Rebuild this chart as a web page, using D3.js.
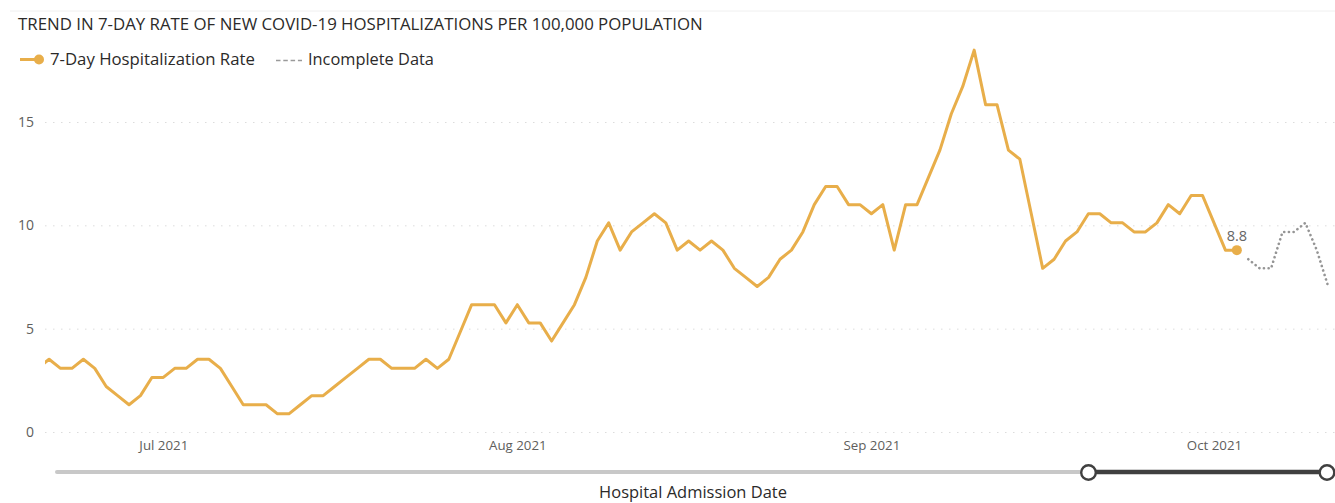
<!DOCTYPE html>
<html><head><meta charset="utf-8">
<script src="https://cdn.jsdelivr.net/npm/d3@7"></script>
<style>body{margin:0;background:#fff} svg{display:block}</style>
</head><body><svg id="c" width="1335" height="503"></svg>
<script>
// ---- data ----
const titleText = "TREND IN 7-DAY RATE OF NEW COVID-19 HOSPITALIZATIONS PER 100,000 POPULATION";
const seriesNames = ["7-Day Hospitalization Rate", "Incomplete Data"];
const rateStart = "2021-06-20";
const rateValues = [
  3.08, 3.52, 3.08, 3.08, 3.52, 3.08, 2.20, 1.76, 1.32, 1.76, 2.64,            // Jun 20-30
  2.64, 3.08, 3.08, 3.52, 3.52, 3.08, 2.20, 1.32, 1.32, 1.32,                  // Jul 1-10
  0.88, 0.88, 1.32, 1.76, 1.76, 2.20, 2.64, 3.08, 3.52, 3.52,                  // Jul 11-20
  3.08, 3.08, 3.08, 3.52, 3.08, 3.52, 4.84, 6.16, 6.16, 6.16, 5.28,            // Jul 21-31
  6.16, 5.28, 5.28, 4.40, 5.28, 6.16, 7.48, 9.24, 10.12, 8.80,                 // Aug 1-10
  9.68, 10.12, 10.56, 10.12, 8.80, 9.24, 8.80, 9.24, 8.80, 7.92,               // Aug 11-20
  7.48, 7.04, 7.48, 8.36, 8.80, 9.68, 11.00, 11.88, 11.88, 11.00, 11.00,       // Aug 21-31
  10.56, 11.00, 8.80, 11.00, 11.00, 12.32, 13.64, 15.40, 16.72, 18.48,         // Sep 1-10
  15.84, 15.84, 13.64, 13.20, 10.56, 7.92, 8.36, 9.24, 9.68, 10.56,            // Sep 11-20
  10.56, 10.12, 10.12, 9.68, 9.68, 10.12, 11.00, 10.56, 11.44, 11.44,          // Sep 21-30
  10.12, 8.80, 8.80                                                            // Oct 1-3
];
const incompleteStart = "2021-10-04";
const incompleteValues = [8.36, 7.92, 7.92, 9.68, 9.68, 10.12, 8.80, 7.04];  // Oct 4-11
const yTicks = [0, 5, 10, 15];
const monthTicks = ["2021-07-01", "2021-08-01", "2021-09-01", "2021-10-01"];
const xAxisTitle = "Hospital Admission Date";

// ---- helpers ----
const parse = d3.utcParse("%Y-%m-%d");
function toSeries(start, vals) {
  const s = parse(start);
  return vals.map((v, i) => ({ date: d3.utcDay.offset(s, i), v }));
}
const rate = toSeries(rateStart, rateValues);
const incomplete = toSeries(incompleteStart, incompleteValues);

const W = 1335, H = 503;
const plotLeft = 45, plotRight = 1331;
const svg = d3.select("#c");
const FONT = "'Segoe UI', 'Open Sans', sans-serif";
const ORANGE = "#E8AE4A";

const x = d3.scaleUtc()
  .domain([parse("2021-07-01"), parse("2021-10-01")])
  .range([163.3, 1214]);
const y = d3.scaleLinear().domain([0, 15]).range([432, 122]);

function fit(sel, target) {
  const w = sel.node().getComputedTextLength();
  const fs = parseFloat(sel.attr("font-size"));
  sel.attr("font-size", (fs * target / w).toFixed(2));
}

// faint top rule
svg.append("line").attr("x1", 10).attr("x2", W).attr("y1", 11).attr("y2", 11)
  .attr("stroke", "#f0f0f0").attr("stroke-width", 1);

// title
const t = svg.append("text").attr("x", 18).attr("y", 30)
  .attr("font-family", FONT).attr("font-size", 14).attr("fill", "#2b2a29")
  .text(titleText);
fit(t, 685);

// legend
const lg = svg.append("g");
lg.append("line").attr("x1", 20).attr("x2", 38).attr("y1", 59.5).attr("y2", 59.5)
  .attr("stroke", ORANGE).attr("stroke-width", 3);
lg.append("circle").attr("cx", 39).attr("cy", 59.5).attr("r", 5).attr("fill", ORANGE);
const l1 = lg.append("text").attr("x", 50).attr("y", 65).attr("font-family", FONT)
  .attr("font-size", 15).attr("fill", "#2b2a29").text(seriesNames[0]);
fit(l1, 205);
lg.append("line").attr("x1", 276).attr("x2", 302).attr("y1", 60.5).attr("y2", 60.5)
  .attr("stroke", "#9a9a9a").attr("stroke-width", 1.4).attr("stroke-dasharray", "4.5,2.8");
const l2 = lg.append("text").attr("x", 308).attr("y", 65).attr("font-family", FONT)
  .attr("font-size", 15).attr("fill", "#2b2a29").text(seriesNames[1]);
fit(l2, 126);

// y axis + gridlines
const yAxis = svg.append("g").attr("transform", `translate(${plotLeft},0)`)
  .call(d3.axisLeft(y).tickValues(yTicks).tickSize(-(W - plotLeft)).tickPadding(11));
yAxis.select(".domain").remove();
yAxis.selectAll(".tick line").attr("stroke", "#dcdcdc").attr("stroke-dasharray", "1.5,6.5");
yAxis.selectAll(".tick text").attr("font-family", FONT).attr("font-size", 14).attr("fill", "#605E5C");

// x axis
const xAxis = svg.append("g").attr("transform", "translate(0,432)")
  .call(d3.axisBottom(x).tickValues(monthTicks.map(parse)).tickSize(0).tickPadding(9)
    .tickFormat(d3.utcFormat("%b %Y")));
xAxis.select(".domain").remove();
xAxis.selectAll(".tick text").attr("font-family", FONT).attr("font-size", 13.3).attr("fill", "#605E5C");

// clip
svg.append("defs").append("clipPath").attr("id", "plotclip")
  .append("rect").attr("x", plotLeft).attr("y", 0).attr("width", plotRight - plotLeft).attr("height", H);

const line = d3.line().x(d => x(d.date)).y(d => y(d.v));
const plot = svg.append("g").attr("clip-path", "url(#plotclip)");
plot.append("path").datum(incomplete).attr("d", line).attr("fill", "none")
  .attr("stroke", "#959595").attr("stroke-width", 2.6).attr("stroke-linecap", "round")
  .attr("stroke-dasharray", "0.1,4.6");
plot.append("path").datum(rate).attr("d", line).attr("fill", "none")
  .attr("stroke", ORANGE).attr("stroke-width", 3).attr("stroke-linejoin", "round");

const last = rate[rate.length - 1];
svg.append("circle").attr("cx", x(last.date)).attr("cy", y(last.v)).attr("r", 5).attr("fill", ORANGE);
svg.append("text").attr("x", x(last.date)).attr("y", y(last.v) - 9)
  .attr("text-anchor", "middle").attr("font-family", FONT).attr("font-size", 14.5)
  .attr("fill", "#666").text(d3.format(".1f")(last.v));

// range slider
svg.append("line").attr("x1", 57).attr("x2", 1088).attr("y1", 472).attr("y2", 472)
  .attr("stroke", "#c8c8c8").attr("stroke-width", 4).attr("stroke-linecap", "round");
svg.append("line").attr("x1", 1088).attr("x2", 1327).attr("y1", 472).attr("y2", 472)
  .attr("stroke", "#404040").attr("stroke-width", 4.5);
[1088.5, 1327].forEach(cx => {
  svg.append("circle").attr("cx", cx).attr("cy", 472.5).attr("r", 7.3)
    .attr("fill", "#fff").attr("stroke", "#404040").attr("stroke-width", 2.4);
});

// x axis title
const xt = svg.append("text").attr("x", 693).attr("y", 498).attr("text-anchor", "middle")
  .attr("font-family", FONT).attr("font-size", 15).attr("fill", "#2b2a29").text(xAxisTitle);
fit(xt, 188);
</script></body></html>
